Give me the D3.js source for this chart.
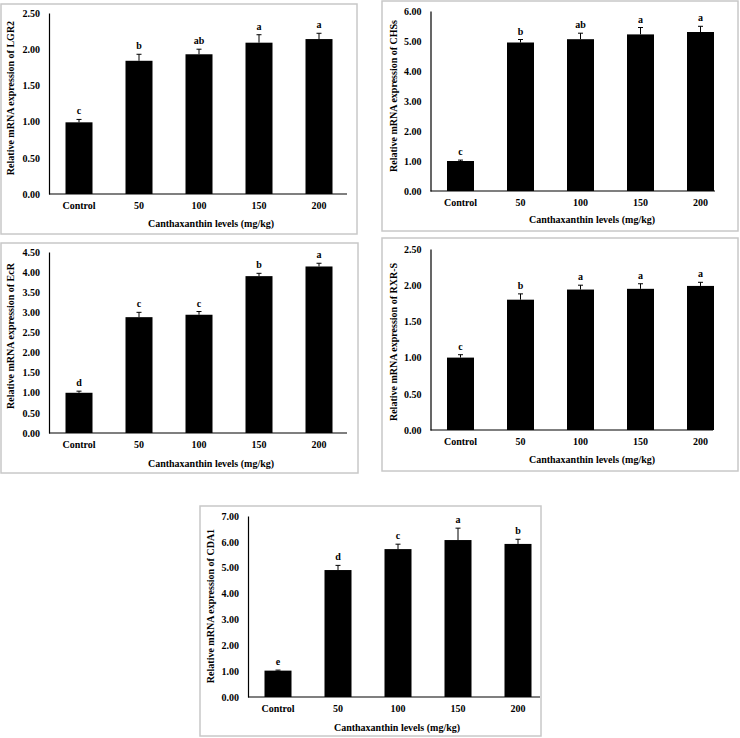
<!DOCTYPE html>
<html>
<head>
<meta charset="utf-8">
<script src="https://cdn.jsdelivr.net/npm/d3@7"></script>
<style>
  body { margin: 0; background: #fff; }
  svg { display: block; }
  text { font-family: "Liberation Serif", "Times New Roman", serif; font-weight: bold; fill: #000; }
</style>
</head>
<body>
<div id="chart"></div>
<script>
// dose groups, shared by every panel
const doses = ['Control', '50', '100', '150', '200']
const genes = ['LGR2', 'CHSs', 'EcR', 'RXR-S', 'CDA1']

// means, SE and significance letters
const lgr2 = [0.99, 1.84, 1.93, 2.09, 2.14]
const lgr2Err = [0.04, 0.09, 0.07, 0.11, 0.08]
const lgr2Sig = ['c', 'b', 'ab', 'a', 'a']
const lgr2Ticks = [0, 0.5, 1, 1.5, 2, 2.5]

const chs = [1.00, 4.95, 5.06, 5.22, 5.30]
const chsErr = [0.03, 0.10, 0.20, 0.23, 0.19]
const chsSig = ['c', 'b', 'ab', 'a', 'a']
const chsTicks = [0, 1, 2, 3, 4, 5, 6]

const ecr = [1.00, 2.88, 2.94, 3.90, 4.14]
const ecrErr = [0.04, 0.12, 0.08, 0.07, 0.08]
const ecrSig = ['d', 'c', 'c', 'b', 'a']
const ecrTicks = [0, 0.5, 1, 1.5, 2, 2.5, 3, 3.5, 4, 4.5]

const rxr = [1.00, 1.80, 1.94, 1.95, 1.99]
const rxrErr = [0.04, 0.08, 0.06, 0.07, 0.05]
const rxrSig = ['c', 'b', 'a', 'a', 'a']
const rxrTicks = [0, 0.5, 1, 1.5, 2, 2.5]

const cda1 = [1.02, 4.91, 5.72, 6.07, 5.92]
const cda1Err = [0.02, 0.18, 0.19, 0.46, 0.18]
const cda1Sig = ['e', 'd', 'c', 'a', 'b']
const cda1Ticks = [0, 1, 2, 3, 4, 5, 6, 7]

const series = [
  [lgr2, lgr2Err, lgr2Sig, lgr2Ticks],
  [chs, chsErr, chsSig, chsTicks],
  [ecr, ecrErr, ecrSig, ecrTicks],
  [rxr, rxrErr, rxrSig, rxrTicks],
  [cda1, cda1Err, cda1Sig, cda1Ticks],
]

// where each panel sits on the page
const layout = [
  {frame: [1, 4, 356, 230], ax: 49, top: 13, base: 194, end: 347, tx: 211, ty: 223, yx: 10, yy: 98},
  {frame: [382, 1, 356, 230], ax: 430.5, top: 11, base: 191, end: 715, tx: 592, ty: 219, yx: 393, yy: 96},
  {frame: [1, 243, 357, 230], ax: 49, top: 252, base: 433, end: 347, tx: 211, ty: 463, yx: 10, yy: 336},
  {frame: [382, 238, 356, 233], ax: 430.5, top: 249, base: 430, end: 713, tx: 592, ty: 459, yx: 393, yy: 342},
  {frame: [200, 506, 341, 230], ax: 248, top: 516, base: 697, end: 540, tx: 397, ty: 727, yx: 210, yy: 606},
]

const svg = d3.select('#chart').append('svg')
  .attr('width', 740)
  .attr('height', 738)

genes.forEach((gene, i) => {
  const [vals, errs, sig, ticks] = series[i]
  const L = layout[i]
  const g = svg.append('g')

  g.append('rect')
    .attr('x', L.frame[0]).attr('y', L.frame[1])
    .attr('width', L.frame[2]).attr('height', L.frame[3])
    .attr('fill', 'none').attr('stroke', '#c8c8c8').attr('stroke-width', 1.5)

  const x = d3.scaleBand().domain(doses).range([L.ax, L.ax + 300])
    .paddingInner(0.55).paddingOuter(0.275)
  const y = d3.scaleLinear().domain([0, d3.max(ticks)]).range([L.base, L.top])

  const yAxis = g.append('g')
    .attr('transform', `translate(${L.ax},0)`)
    .call(d3.axisLeft(y).tickValues(ticks).tickFormat(d3.format('.2f')).tickSize(0).tickPadding(9))
  yAxis.select('.domain').attr('stroke', '#000').attr('stroke-width', 1.2)
  yAxis.selectAll('.tick text').attr('font-size', 10).attr('font-family', null)

  const xAxis = g.append('g')
    .attr('transform', `translate(0,${L.base})`)
    .call(d3.axisBottom(x).tickSize(0).tickPadding(8))
  xAxis.select('.domain').remove()
  xAxis.selectAll('.tick text').attr('font-size', 10).attr('font-family', null)

  const data = doses.map((d, j) => ({dose: d, v: vals[j], e: errs[j], s: sig[j]}))

  g.selectAll('.bar').data(data).enter().append('rect')
    .attr('class', 'bar')
    .attr('x', d => x(d.dose))
    .attr('y', d => y(d.v))
    .attr('width', x.bandwidth())
    .attr('height', d => y(0) - y(d.v))
    .attr('fill', '#000')

  g.append('line')
    .attr('x1', L.ax).attr('x2', L.end)
    .attr('y1', L.base).attr('y2', L.base)
    .attr('stroke', '#000').attr('stroke-width', 1.2)

  const cx = d => x(d.dose) + x.bandwidth() / 2
  g.selectAll('.err').data(data).enter().append('path')
    .attr('class', 'err')
    .attr('d', d => `M${cx(d)},${y(d.v)}V${y(d.v + d.e)}M${cx(d) - 2.5},${y(d.v + d.e)}H${cx(d) + 2.5}`)
    .attr('stroke', '#000').attr('stroke-width', 1).attr('fill', 'none')

  g.selectAll('.sig').data(data).enter().append('text')
    .attr('class', 'sig')
    .attr('x', cx)
    .attr('y', d => y(d.v + d.e) - 5)
    .attr('text-anchor', 'middle')
    .attr('font-size', 10)
    .text(d => d.s)

  g.append('text')
    .attr('x', L.tx).attr('y', L.ty)
    .attr('dy', '0.35em')
    .attr('text-anchor', 'middle')
    .attr('font-size', 10)
    .text('Canthaxanthin levels (mg/kg)')

  g.append('text')
    .attr('transform', `translate(${L.yx},${L.yy}) rotate(-90)`)
    .attr('dy', '0.35em')
    .attr('text-anchor', 'middle')
    .attr('font-size', 10)
    .text('Relative mRNA expression of ' + gene)
})
</script>
</body>
</html>
